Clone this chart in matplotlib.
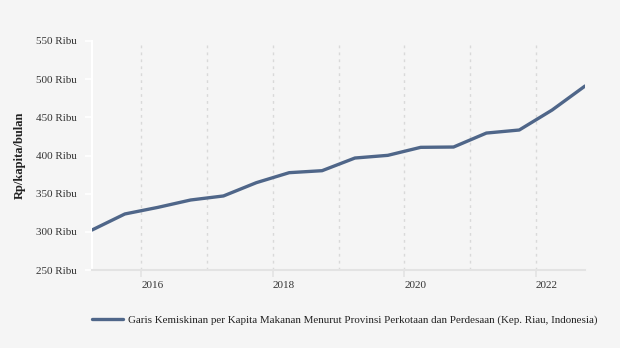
import matplotlib
matplotlib.use("Agg")
import matplotlib.pyplot as plt
from matplotlib.transforms import ScaledTranslation

# Semester periods (March / September), values in thousand Rupiah
periods = [
    "2015-03", "2015-09", "2016-03", "2016-09", "2017-03", "2017-09",
    "2018-03", "2018-09", "2019-03", "2019-09", "2020-03", "2020-09",
    "2021-03", "2021-09", "2022-03", "2022-09",
]
values = [
    302.4, 323.4, 332.0, 341.7, 347.0, 364.4, 377.5, 380.1,
    396.7, 400.2, 410.7, 411.1, 429.4, 433.4, 459.6, 491.0,
]
year_ticks = [2016, 2018, 2020, 2022]
grid_years = [2016, 2017, 2018, 2019, 2020, 2021, 2022]
y_ticks = [250, 300, 350, 400, 450, 500, 550]
series_name = "Garis Kemiskinan per Kapita Makanan Menurut Provinsi Perkotaan dan Perdesaan (Kep. Riau, Indonesia)"


def to_year(p: str) -> float:
    y, m = p.split("-")
    return int(y) + int(m) / 12.0


x = [to_year(p) for p in periods]

plt.rcParams["font.family"] = ["Liberation Serif", "DejaVu Serif"]

bg = "#f5f5f5"
fig = plt.figure(figsize=(6.2, 3.48), dpi=100, facecolor=bg)
ax = fig.add_axes([92 / 620, 78 / 348, 493 / 620, 229 / 348], facecolor=bg)

for gy in grid_years:
    ax.axvline(gy, color="#d9d9d9", linestyle=(0, (2, 3)), linewidth=1, zorder=1)

line, = ax.plot(x, values, color="#4f6689", linewidth=2.4, zorder=3,
                solid_capstyle="round", label=series_name)

ax.set_xlim(x[0], x[-1])
ax.set_ylim(250, 550)
ax.set_xticks(year_ticks)
ax.set_xticklabels([str(y) for y in year_ticks])
ax.set_yticks(y_ticks)
ax.set_yticklabels([f"{v} Ribu" for v in y_ticks])

# year labels sit just right of their tick
shift = ScaledTranslation(5 / 100, 0, fig.dpi_scale_trans)
for lbl in ax.get_xticklabels():
    lbl.set_horizontalalignment("left")
    lbl.set_transform(lbl.get_transform() + shift)

for side in ("top", "right"):
    ax.spines[side].set_visible(False)
ax.spines["left"].set_color("white")
ax.spines["left"].set_linewidth(1.5)
ax.spines["bottom"].set_color("#e3e3e3")
ax.spines["bottom"].set_linewidth(1.5)

ax.tick_params(axis="y", colors="white", labelcolor="#333333", labelsize=8,
               length=5, width=1.2, pad=6)
ax.tick_params(axis="x", colors="#e3e3e3", labelcolor="#333333", labelsize=8,
               length=5, width=1.2, pad=3)

ax.set_ylabel("Rp/kapita/bulan", fontsize=9, fontweight="bold", color="#222222",
              labelpad=7)

fig.legend(handles=[line], loc="center left", bbox_to_anchor=(82 / 620, 1 - 320 / 348),
           frameon=False, fontsize=7.9, handlelength=2.8, handletextpad=0.5,
           labelcolor="#222222")

fig.savefig("out.png", dpi=100, facecolor=bg)
